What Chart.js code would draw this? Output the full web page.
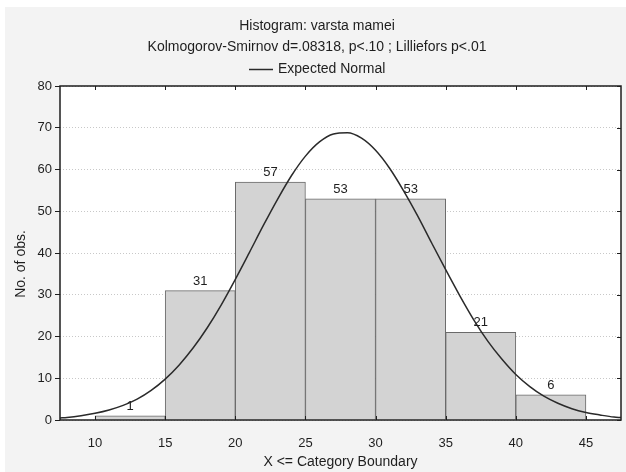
<!DOCTYPE html>
<html>
<head>
<meta charset="utf-8">
<script src="https://cdn.jsdelivr.net/npm/chart.js@4/dist/chart.umd.min.js"></script>
<style>
  html, body { margin: 0; padding: 0; background: #ffffff; }
  #wrap { width: 626px; height: 472px; }
</style>
</head>
<body>
<div id="wrap"><canvas id="c" width="626" height="472"></canvas></div>
<script>
// Histogram of mother's age: class boundaries and observed counts
const binEdges = [10, 15, 20, 25, 30, 35, 40, 45];
const counts = [1, 31, 57, 53, 53, 21, 6];

// Expected normal curve (frequency scale), sampled along the age axis
const curveX = [7.5, 8, 9, 10, 11, 12, 13, 14, 15, 16, 17, 18, 19, 20, 21, 22, 23, 24, 25, 26, 27,
                28, 29, 30, 31, 32, 33, 34, 35, 36, 37, 38, 39, 40, 41, 42, 43, 44, 45, 46, 47, 47.5];
const curveY = [0.5, 0.6, 1.0, 1.6, 2.4, 3.5, 5.0, 7.1, 9.8, 13.2, 17.3, 22.1, 27.6, 33.7, 40.1, 46.6, 52.8, 58.5, 63.2, 66.6, 68.5,
                68.8, 67.5, 64.6, 60.3, 54.9, 48.9, 42.4, 36.0, 29.8, 24.0, 18.9, 14.6, 10.9, 8.0, 5.7, 4.0, 2.7, 1.8, 1.2, 0.7, 0.6];

// Axis ticks
const xTicks = [10, 15, 20, 25, 30, 35, 40, 45];
const yTicks = [0, 10, 20, 30, 40, 50, 60, 70, 80];
const xRange = [7.5, 47.5];
const yRange = [0, 80];

const titleText = 'Histogram: varsta mamei';
const subtitleText = 'Kolmogorov-Smirnov d=.08318, p<.10 ; Lilliefors p<.01';
const xTitle = 'X <= Category Boundary';
const yTitle = 'No. of obs.';

const FONT = '"Liberation Sans", Arial, Helvetica, sans-serif';
const INK = '#1e1e1e';

const barData = counts.map((c, i) => ({ x: (binEdges[i] + binEdges[i + 1]) / 2, y: c }));
const curveData = curveX.map((x, i) => ({ x: x, y: curveY[i] }));

// Page background, plot background, frame, bar labels and headings
const framePlugin = {
  id: 'frame',
  beforeDraw(chart) {
    const { ctx, chartArea: a, width, height } = chart;
    ctx.save();
    ctx.fillStyle = '#ffffff';
    ctx.fillRect(0, 0, width, height);
    ctx.fillStyle = '#f3f3f3';
    ctx.fillRect(5, 7, width - 5, height - 7);
    ctx.fillStyle = '#ffffff';
    ctx.fillRect(a.left, a.top, a.right - a.left, a.bottom - a.top);
    ctx.restore();
  },
  afterDatasetsDraw(chart) {
    const { ctx, chartArea: a, scales } = chart;
    // value labels above each bar
    const meta = chart.getDatasetMeta(0);
    ctx.save();
    ctx.font = '13px ' + FONT;
    ctx.fillStyle = INK;
    ctx.textAlign = 'center';
    ctx.textBaseline = 'bottom';
    meta.data.forEach((el, i) => {
      ctx.fillText(String(counts[i]), el.x, el.y - 3);
    });
    ctx.restore();

    // frame
    ctx.save();
    ctx.strokeStyle = INK;
    ctx.lineWidth = 1.5;
    ctx.strokeRect(a.left, a.top, a.right - a.left, a.bottom - a.top);
    // inside tick marks on bottom, top and right edges
    ctx.lineWidth = 1;
    ctx.beginPath();
    xTicks.forEach(v => {
      const px = Math.round(scales.x.getPixelForValue(v)) + 0.5;
      ctx.moveTo(px, a.bottom); ctx.lineTo(px, a.bottom - 4);
      ctx.moveTo(px, a.top); ctx.lineTo(px, a.top + 4);
    });
    yTicks.forEach(v => {
      const py = Math.round(scales.y.getPixelForValue(v)) + 0.5;
      ctx.moveTo(a.right, py); ctx.lineTo(a.right - 4, py);
    });
    ctx.stroke();
    ctx.restore();
  },
  afterDraw(chart) {
    const { ctx, chartArea: a } = chart;
    ctx.save();
    ctx.fillStyle = INK;
    ctx.textBaseline = 'middle';
    ctx.textAlign = 'center';
    ctx.font = '14px ' + FONT;
    ctx.fillText(titleText, 317, 26);
    ctx.fillText(subtitleText, 317, 47);

    // legend entry for the curve
    const ds = chart.data.datasets[1];
    ctx.strokeStyle = ds.borderColor;
    ctx.lineWidth = 1.5;
    ctx.beginPath();
    ctx.moveTo(249, 69.5); ctx.lineTo(273, 69.5);
    ctx.stroke();
    ctx.textAlign = 'left';
    ctx.fillText(ds.label, 278, 69);

    // axis titles
    ctx.textAlign = 'center';
    ctx.fillText(xTitle, (a.left + a.right) / 2, 462);
    ctx.translate(21, 264);
    ctx.rotate(-Math.PI / 2);
    ctx.fillText(yTitle, 0, 0);
    ctx.restore();
  }
};

new Chart(document.getElementById('c'), {
  data: {
    datasets: [
      {
        type: 'bar',
        label: 'Observed',
        data: barData,
        backgroundColor: '#d3d3d3',
        borderColor: '#6a6a6a',
        borderWidth: 1,
        barPercentage: 1.0,
        categoryPercentage: 1.0,
        order: 2
      },
      {
        type: 'line',
        label: 'Expected Normal',
        data: curveData,
        borderColor: '#2a2a2a',
        borderWidth: 1.5,
        pointRadius: 0,
        fill: false,
        cubicInterpolationMode: 'monotone',
        order: 1
      }
    ]
  },
  options: {
    responsive: false,
    animation: false,
    devicePixelRatio: 1,
    layout: { padding: { top: 86, right: 5, left: 0, bottom: 0 } },
    plugins: {
      legend: { display: false },
      title: { display: false },
      tooltip: { enabled: false }
    },
    scales: {
      x: {
        type: 'linear',
        offset: false,
        min: xRange[0],
        max: xRange[1],
        grid: { display: false, offset: false },
        border: { display: false },
        ticks: {
          color: INK,
          font: { family: FONT, size: 13 },
          padding: 8,
          maxRotation: 0
        },
        afterBuildTicks(scale) { scale.ticks = xTicks.map(v => ({ value: v })); },
        afterFit(scale) { scale.height = 52; }
      },
      y: {
        type: 'linear',
        min: yRange[0],
        max: yRange[1],
        grid: {
          color: '#c8c8c8',
          lineWidth: 1,
          drawTicks: true,
          tickLength: 5,
          tickColor: INK,
          tickWidth: 1
        },
        border: { display: false, dash: [1, 2] },
        ticks: {
          color: INK,
          font: { family: FONT, size: 13 },
          padding: 3
        },
        afterBuildTicks(scale) { scale.ticks = yTicks.map(v => ({ value: v })); },
        afterFit(scale) { scale.width = 60; }
      }
    }
  },
  plugins: [framePlugin]
});
</script>
</body>
</html>
